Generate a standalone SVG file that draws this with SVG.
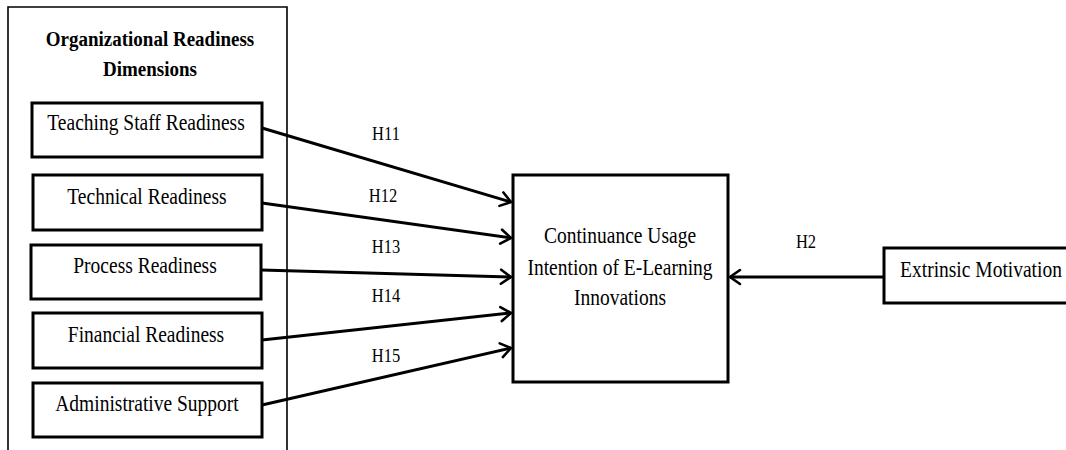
<svg xmlns="http://www.w3.org/2000/svg" width="1066" height="450" viewBox="0 0 1066 450">
  <style>
    .frame { fill: none; stroke: #000; stroke-width: 1.6; }
    .box { fill: #fff; stroke: #000; stroke-width: 3; }
    .lbl { font-family: "Liberation Serif", "Times New Roman", serif; font-size: 19.5px; fill: #000; text-anchor: middle; }
    .title { font-weight: bold; font-size: 19px; }
    .hyp { font-family: "Liberation Serif", "Times New Roman", serif; font-size: 16.5px; fill: #000; text-anchor: middle; }
    .conn { fill: none; stroke: #000; stroke-width: 3; marker-end: url(#chev); }
  </style>
  <defs>
    <marker id="chev" markerUnits="userSpaceOnUse" markerWidth="16" markerHeight="18" refX="11" refY="8" orient="auto" overflow="visible">
      <path d="M1,1 L11,8 L1,15" fill="none" stroke="#000" stroke-width="2.6" stroke-linecap="round" stroke-linejoin="miter"/>
    </marker>
  </defs>
  <rect width="1066" height="450" fill="#fff"/>

  <!-- grouping frame for the readiness dimensions -->
  <g id="org-readiness">
    <path class="frame" d="M8,460 L8,7 L287,7 L287,460"/>
    <text class="lbl title" transform="translate(150,46) scale(1,1.15)">Organizational Readiness</text>
    <text class="lbl title" transform="translate(150,76) scale(1,1.15)">Dimensions</text>
  </g>

  <g id="teaching-staff">
    <rect class="box" x="32" y="103" width="230" height="54"/>
    <text class="lbl" transform="translate(146,130) scale(1,1.15)">Teaching Staff Readiness</text>
  </g>
  <g id="technical">
    <rect class="box" x="33" y="175" width="229" height="55"/>
    <text class="lbl" transform="translate(147,204) scale(1,1.15)">Technical Readiness</text>
  </g>
  <g id="process">
    <rect class="box" x="31" y="245" width="230" height="54"/>
    <text class="lbl" transform="translate(145,273) scale(1,1.15)">Process Readiness</text>
  </g>
  <g id="financial">
    <rect class="box" x="33" y="313" width="229" height="55"/>
    <text class="lbl" transform="translate(146,342) scale(1,1.15)">Financial Readiness</text>
  </g>
  <g id="admin-support">
    <rect class="box" x="33" y="383" width="229" height="54"/>
    <text class="lbl" transform="translate(147,411) scale(1,1.15)">Administrative Support</text>
  </g>

  <g id="continuance">
    <rect class="box" x="513" y="175" width="215" height="207"/>
    <text class="lbl" transform="translate(620,243) scale(1,1.15)">Continuance Usage</text>
    <text class="lbl" transform="translate(620,275) scale(1,1.15)">Intention of E-Learning</text>
    <text class="lbl" transform="translate(620,305) scale(1,1.15)">Innovations</text>
  </g>

  <g id="extrinsic">
    <rect class="box" x="884" y="248" width="200" height="55"/>
    <text class="lbl" transform="translate(981,277) scale(1,1.15)">Extrinsic Motivation</text>
  </g>

  <!-- hypothesised paths -->
  <g id="connectors">
    <line class="conn" x1="262" y1="128" x2="511" y2="202"/>
    <line class="conn" x1="262" y1="203" x2="511" y2="238"/>
    <line class="conn" x1="261" y1="270" x2="511" y2="277"/>
    <line class="conn" x1="262" y1="340" x2="511" y2="313"/>
    <line class="conn" x1="262" y1="405" x2="511" y2="348"/>
    <line class="conn" x1="884" y1="277" x2="730" y2="277"/>
    <text class="hyp" transform="translate(386,140) scale(1,1.1)">H11</text>
    <text class="hyp" transform="translate(383,202) scale(1,1.1)">H12</text>
    <text class="hyp" transform="translate(386,253) scale(1,1.1)">H13</text>
    <text class="hyp" transform="translate(386,302) scale(1,1.1)">H14</text>
    <text class="hyp" transform="translate(386,362) scale(1,1.1)">H15</text>
    <text class="hyp" transform="translate(806,248) scale(1,1.1)">H2</text>
  </g>
</svg>
